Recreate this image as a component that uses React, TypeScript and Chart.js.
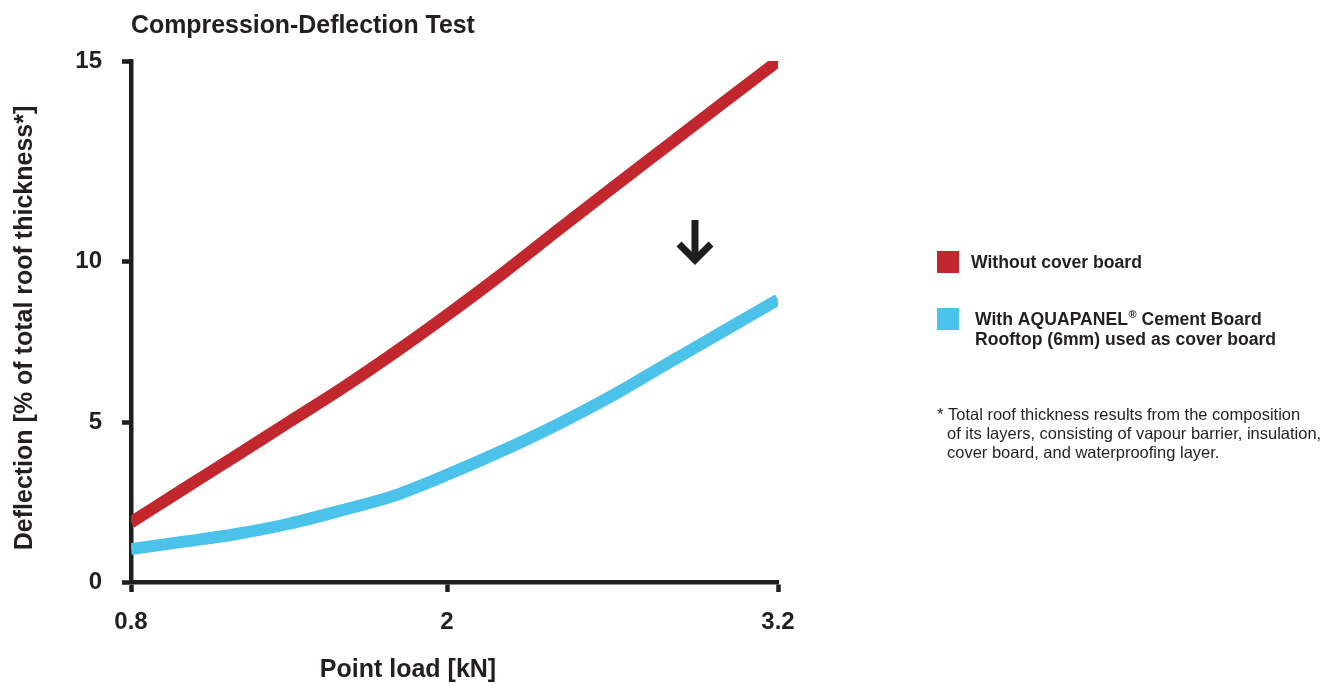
import React, { useEffect, useRef } from "react";
import { Chart, registerables, LinearScale } from "chart.js";

Chart.register(...registerables);

// ---------------- data ----------------
const CHART_TITLE = "Compression-Deflection Test";
const X_TITLE = "Point load [kN]";
const Y_TITLE = "Deflection [% of total roof thickness*]";

const LOADS_KN = [0.8, 1.0, 1.2, 1.4, 1.6, 1.8, 2.0, 2.2, 2.4, 2.6, 2.8, 3.0, 3.2];
const WITHOUT_COVER_BOARD = [1.86, 2.91, 3.95, 5.0, 6.04, 7.15, 8.32, 9.6, 10.76, 11.83, 12.89, 13.95, 15.0];
const WITH_AQUAPANEL = [1.03, 1.26, 1.5, 1.82, 2.24, 2.7, 3.35, 4.1, 4.92, 5.82, 6.82, 7.81, 8.8];

const X_TICKS = [0.8, 2, 3.2];
const X_TICK_LABELS = ["0.8", "2", "3.2"];
const Y_TICKS = [0, 5, 10, 15];
const Y_TICK_LABELS = ["0", "5", "10", "15"];

const SERIES_NAMES = ["Without cover board", "With AQUAPANEL® Cement Board Rooftop (6mm) used as cover board"];
const LEGEND_LINES = [["Without cover board"], ["With AQUAPANEL", "®", " Cement Board", "Rooftop (6mm) used as cover board"]];
const FOOTNOTE = [
  "* Total roof thickness results from the composition",
  "of its layers, consisting of vapour barrier, insulation,",
  "cover board, and waterproofing layer.",
];

// ---------------- styles / layout ----------------
const RED = "#c1272d";
const BLUE = "#4bc2e9";
const DARK = "#1d1f1e";
const TEXT = "#231f20";
const FONT = "'Liberation Sans', Arial, Helvetica, sans-serif";

// axis drawn with uneven spacing between ticks (as in the original artwork)
const X_AXIS_FRACTIONS = [0, 316 / 647, 1];
const Y_AXIS_FRACTIONS = [0, 160 / 521, 321 / 521, 1];

function interp(v: number, from: number[], to: number[]) {
  if (v <= from[0]) {
    const k = (to[1] - to[0]) / (from[1] - from[0]);
    return to[0] + (v - from[0]) * k;
  }
  for (let i = 1; i < from.length; i++) {
    if (v <= from[i] || i === from.length - 1) {
      const k = (to[i] - to[i - 1]) / (from[i] - from[i - 1]);
      return to[i - 1] + (v - from[i - 1]) * k;
    }
  }
  return to[to.length - 1];
}

function makeWarpedScale(id: string, stops: number[], fractions: number[]) {
  class Warped extends LinearScale {
    static id = id;
    static defaults = LinearScale.defaults;
    getPixelForValue(value: number) {
      if (value === null || value === undefined || isNaN(value as any)) return NaN;
      return this.getPixelForDecimal(interp(value, stops, fractions));
    }
    getValueForPixel(pixel: number) {
      return interp(this.getDecimalForPixel(pixel), fractions, stops);
    }
  }
  return Warped;
}

const WarpedX = makeWarpedScale("warpedX", X_TICKS, X_AXIS_FRACTIONS);
const WarpedY = makeWarpedScale("warpedY", Y_TICKS, Y_AXIS_FRACTIONS);
Chart.register(WarpedX as any, WarpedY as any);

const decorations = {
  id: "decorations",
  afterDraw(chart: any) {
    const ctx = chart.ctx as CanvasRenderingContext2D;
    ctx.save();
    ctx.fillStyle = TEXT;
    ctx.textBaseline = "alphabetic";

    // title
    ctx.font = `bold 24.9px ${FONT}`;
    ctx.textAlign = "left";
    ctx.fillText(CHART_TITLE, 131, 33);

    // x title
    ctx.font = `bold 25px ${FONT}`;
    ctx.textAlign = "center";
    ctx.fillText(X_TITLE, 408, 677);

    // y title
    ctx.save();
    ctx.translate(32, 328);
    ctx.rotate(-Math.PI / 2);
    ctx.textAlign = "center";
    ctx.fillText(Y_TITLE, 0, 0);
    ctx.restore();

    // legend
    const colors = chart.data.datasets.map((d: any) => d.borderColor);
    ctx.textAlign = "left";
    ctx.fillStyle = colors[0];
    ctx.fillRect(937, 251, 22, 22);
    ctx.fillStyle = colors[1];
    ctx.fillRect(937, 308, 22, 22);

    ctx.fillStyle = TEXT;
    ctx.font = `bold 17.6px ${FONT}`;
    ctx.fillText(LEGEND_LINES[0][0], 971, 268);

    const [a, reg, b, line2] = LEGEND_LINES[1];
    let x = 975;
    ctx.fillText(a, x, 325);
    x += ctx.measureText(a).width + 0.5;
    ctx.font = `bold 11px ${FONT}`;
    ctx.fillText(reg, x, 318);
    x += ctx.measureText(reg).width;
    ctx.font = `bold 17.6px ${FONT}`;
    ctx.fillText(b, x, 325);
    ctx.fillText(line2, 975, 345);

    // footnote
    ctx.font = `16.5px ${FONT}`;
    ctx.fillText(FOOTNOTE[0], 937, 420);
    ctx.fillText(FOOTNOTE[1], 947, 439);
    ctx.fillText(FOOTNOTE[2], 947, 458);

    // arrow
    ctx.strokeStyle = DARK;
    ctx.lineWidth = 7;
    ctx.lineCap = "butt";
    ctx.lineJoin = "miter";
    ctx.beginPath();
    ctx.moveTo(695, 220);
    ctx.lineTo(695, 258);
    ctx.stroke();
    ctx.beginPath();
    ctx.moveTo(679, 244);
    ctx.lineTo(695, 260);
    ctx.lineTo(711, 244);
    ctx.stroke();

    ctx.restore();
  },
};

export default function App() {
  const canvasRef = useRef<HTMLCanvasElement | null>(null);

  useEffect(() => {
    const canvas = canvasRef.current;
    if (!canvas) return;
    const axisCommon = {
      z: 1,
      border: { display: true, color: DARK, width: 4.5 },
    };
    const lineStyle = {
      borderWidth: 12,
      pointRadius: 0,
      cubicInterpolationMode: "monotone",
      borderCapStyle: "butt",
      borderJoinStyle: "round",
      clip: 0,
    };
    const chart = new Chart(canvas, {
      type: "line",
      data: {
        datasets: [
          {
            label: SERIES_NAMES[0],
            data: LOADS_KN.map((x, i) => ({ x, y: WITHOUT_COVER_BOARD[i] })),
            borderColor: RED,
            backgroundColor: RED,
            ...lineStyle,
          },
          {
            label: SERIES_NAMES[1],
            data: LOADS_KN.map((x, i) => ({ x, y: WITH_AQUAPANEL[i] })),
            borderColor: BLUE,
            backgroundColor: BLUE,
            ...lineStyle,
          },
        ],
      },
      options: {
        responsive: false,
        animation: false,
        events: [],
        layout: { padding: { left: 0, top: 61, right: 557, bottom: 0 } },
        plugins: {
          legend: { display: false },
          tooltip: { enabled: false },
          title: { display: false },
        },
        scales: {
          x: {
            ...axisCommon,
            type: "warpedX" as any,
            position: "bottom",
            min: X_TICKS[0],
            max: X_TICKS[X_TICKS.length - 1],
            afterBuildTicks: (s: any) => {
              s.ticks = X_TICKS.map((v) => ({ value: v }));
            },
            afterFit: (s: any) => {
              s.height = 103;
            },
            grid: {
              display: true,
              drawOnChartArea: false,
              drawTicks: true,
              tickLength: 10,
              tickWidth: 4.5,
              tickColor: DARK,
            },
            ticks: {
              autoSkip: false,
              maxRotation: 0,
              padding: 16,
              color: TEXT,
              font: { family: FONT, size: 24, weight: "bold" },
              callback: (v: any) => X_TICK_LABELS[X_TICKS.indexOf(Number(v))] ?? String(v),
            },
          },
          y: {
            ...axisCommon,
            type: "warpedY" as any,
            position: "left",
            min: Y_TICKS[0],
            max: Y_TICKS[Y_TICKS.length - 1],
            afterBuildTicks: (s: any) => {
              s.ticks = Y_TICKS.map((v) => ({ value: v }));
            },
            afterFit: (s: any) => {
              s.width = 131;
            },
            grid: {
              display: true,
              drawOnChartArea: false,
              drawTicks: true,
              tickLength: 9,
              tickWidth: 4.5,
              tickColor: DARK,
            },
            ticks: {
              autoSkip: false,
              padding: 20,
              color: TEXT,
              font: { family: FONT, size: 24, weight: "bold" },
              callback: (v: any) => Y_TICK_LABELS[Y_TICKS.indexOf(Number(v))] ?? String(v),
            },
          },
        },
      } as any,
      plugins: [decorations],
    });
    return () => chart.destroy();
  }, []);

  return (
    <div style={{ position: "absolute", left: 0, top: 0, width: 1335, height: 685, background: "#fff" }}>
      <canvas ref={canvasRef} width={1335} height={685} style={{ display: "block", width: 1335, height: 685 }} />
    </div>
  );
}
